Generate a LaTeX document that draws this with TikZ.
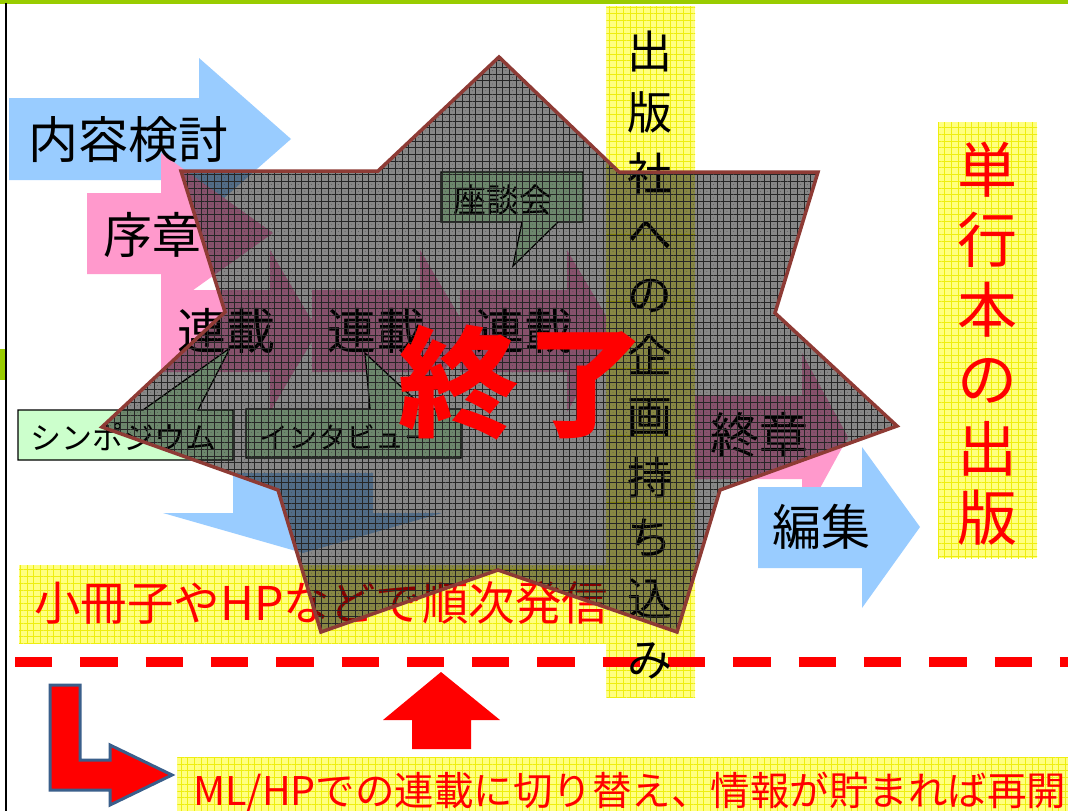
\documentclass[tikz,border=0pt]{standalone}
\usepackage{fontspec}
\setmainfont{Noto Sans CJK JP}
\usetikzlibrary{patterns.meta}
\definecolor{lblue}{HTML}{99CCFF}
\definecolor{lpink}{HTML}{FF99CC}
\definecolor{lgreen}{HTML}{CCFFCC}
\definecolor{yelbg}{HTML}{FFFF80}
\definecolor{yelgrid}{HTML}{EEEE10}
\definecolor{starline}{HTML}{8E3B35}
\definecolor{barg}{HTML}{99CC00}
\definecolor{navyline}{HTML}{3A5F8B}
\newcommand{\fsz}[1]{\fontsize{#1}{#1}\selectfont}
\tikzset{
  lbl/.style={inner sep=0pt, text=black},
  redlbl/.style={inner sep=0pt, text=red},
  bluearrow/.style={fill=lblue},
  pinkarrow/.style={fill=lpink},
  callout/.style={fill=lgreen, draw=black, line width=1.3pt, line join=miter},
  yellowbox/.style={preaction={fill=yelbg}, pattern={Hatch[angle=0,distance=6.7pt,line width=0.6pt]}, pattern color=yelgrid},
  starshape/.style={preaction={fill=black, fill opacity=0.47},
     preaction={pattern={Dots[radius=0.4pt,distance=6.7pt,xshift=3.35pt,yshift=3.35pt]}, pattern color=black!70},
     pattern={Hatch[angle=0,distance=6.7pt,line width=0.55pt]}, pattern color=black!85,
     draw=starline, line width=3.5pt, line join=miter},
  divider/.style={red, line width=10pt, dash pattern=on 37.3pt off 28pt},
}
\begin{document}
\begin{tikzpicture}[x=1pt,y=-1pt]
\useasboundingbox (0,0) rectangle (1068,811);
\fill[white] (0,0) rectangle (1068,811);
% slide frame
\fill[barg] (0,0) rectangle (1068,3.5);
\fill[barg] (0,349) rectangle (5,380);
\draw[line width=2.2pt] (6,3) -- (6,811);

% arrows
\fill[bluearrow] (9,98) -- (199,98) -- (199,58) -- (291,139) -- (199,220) -- (199,180) -- (9,180) -- cycle;
\fill[pinkarrow] (87,193) -- (161,193) -- (161,153) -- (273,233) -- (161,313) -- (161,274) -- (87,274) -- cycle;
\fill[pinkarrow] (161,290) -- (270,290) -- (270,250) -- (318,331) -- (270,412) -- (270,372) -- (161,372) -- cycle;
\fill[pinkarrow] (312,290) -- (420,290) -- (420,250) -- (468,331) -- (420,412) -- (420,372) -- (312,372) -- cycle;
\fill[pinkarrow] (460,290) -- (567,290) -- (567,250) -- (615,331) -- (567,412) -- (567,372) -- (460,372) -- cycle;
\fill[pinkarrow] (680,395) -- (802,395) -- (802,353) -- (848,437) -- (802,521) -- (802,479) -- (680,479) -- cycle;
\fill[bluearrow] (758,487) -- (862,487) -- (862,447) -- (920,527) -- (862,608) -- (862,568) -- (758,568) -- cycle;
\fill[bluearrow] (233,473) -- (373,473) -- (373,513) -- (442,513) -- (303,553) -- (163,513) -- (233,513) -- cycle;

\node[lbl, font=\fsz{50}] (naiyou) at (128,140) {内容検討};
\node[lbl, font=\fsz{49}] (josho) at (152,235) {序章};
\node[lbl, font=\fsz{49}] (renA) at (226,331) {連載};
\node[lbl, font=\fsz{49}] (renB) at (376,331) {連載};
\node[lbl, font=\fsz{49}] (renC) at (524,331) {連載};
\node[lbl, font=\fsz{49}] (shusho) at (759,435) {終章};
\node[lbl, font=\fsz{49}] (henshu) at (821,527) {編集};

% callouts
\filldraw[callout] (18,410) -- (143,410) -- (230,348) -- (198,410) -- (233,410) -- (233,460) -- (18,460) -- cycle;
\filldraw[callout] (246,409) -- (370,409) -- (365,353) -- (425,409) -- (461,409) -- (461,458) -- (246,458) -- cycle;
\filldraw[callout] (441,172) -- (583,172) -- (583,222) -- (558,222) -- (513,266) -- (522,222) -- (441,222) -- cycle;
\node[lbl, font=\fsz{31}] (sympo) at (123,437) {シンポジウム};
\node[lbl, font=\fsz{29}] (interview) at (346,437) {インタビュー};
\node[lbl, font=\fsz{33}] (zadan) at (503,200) {座談会};

% yellow boxes
\path[yellowbox] (19,565) rectangle (610,643);
\node[redlbl, font=\fsz{46.5}, anchor=west] (shousasshi) at (34,603) {小冊子やHPなどで順次発信};
\path[yellowbox] (606,6) rectangle (695,697);
\coordinate (dashL) at (15,662);
\coordinate (dashR) at (1068,662);
\draw[divider] (dashL) -- (dashR);
\node[lbl, align=center, font=\fontsize{45}{60.8}\selectfont] (kikaku) at (650,355)
  {出\\版\\社\\へ\\の\\企\\画\\持\\ち\\込\\み};
\path[yellowbox] (938,122) rectangle (1037,558);
\node[redlbl, align=center, font=\fontsize{60}{69.6}\selectfont] (tankobon) at (987,344)
  {単\\行\\本\\の\\出\\版};

% star
\path[starshape] (499,57) -- (619,172) -- (818,172) -- (775,313) -- (897,426) -- (720,490)
  -- (677,632) -- (498,570) -- (321,632) -- (278,490) -- (102,427) -- (225,312)
  -- (181,171) -- (378,171) -- cycle;
\node[redlbl, font=\bfseries\fsz{120}] (shuryo) at (522,383) {終\kern8pt 了};

% bottom
\fill[red] (441,672) -- (500,720) -- (471,720) -- (471,749) -- (412,749) -- (412,720) -- (383,720) -- cycle;
\filldraw[fill=red, draw=navyline, line width=3pt, line join=miter]
  (50,685) -- (80,685) -- (80,760) -- (110,760) -- (110,745) -- (172,775) -- (110,805) -- (110,790) -- (50,790) -- cycle;
\path[yellowbox] (177,757) rectangle (1068,811);
\node[redlbl, font=\fsz{39.5}, anchor=west] (mlhp) at (193,792) {ML/HPでの連載に切り替え、情報が貯まれば再開};
\end{tikzpicture}
\end{document}
